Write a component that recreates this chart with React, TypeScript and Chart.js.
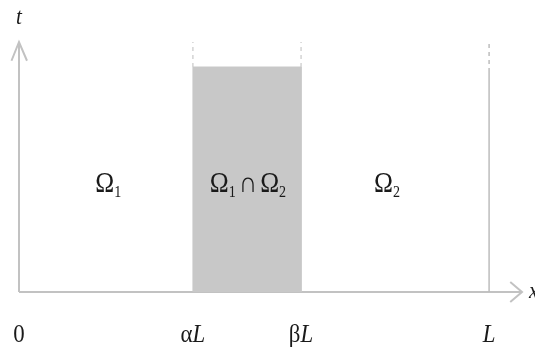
import React, { useEffect, useRef } from "react";
import { Chart, registerables } from "chart.js";

Chart.register(...registerables);

// Domain [0, L] split into two overlapping subdomains
const L = 1;
const alpha = 0.37;
const beta = 0.6;
const overlapHeight = 0.9;
const timeTop = 1.0;
const xAxisEnd = 1.07;
const lSolidTop = 0.88;

// Tick marks along x: upright prefix + italic suffix
const tickValues = [0, alpha * L, beta * L, L];
const tickPrefixes = ["0", "α", "β", ""];
const tickSuffixes = ["", "L", "L", "L"];

// Region labels: Ω with subscript indices
const regionX = [0.19, 0.487, 0.783];
const regionParts = [
  [["Ω", "1"]],
  [["Ω", "1"], ["∩", ""], ["Ω", "2"]],
  [["Ω", "2"]],
];
const regionY = 0.4;

const axisColor = "#c2c2c2";
const guideColor = "#bdbdbd";
const fillColor = "#c8c8c8";
const textColor = "#1a1a1a";
const serif = "'Liberation Serif', 'DejaVu Serif', serif";
const squeeze = 0.88;

const seg = (pts: number[][], color: string, width: number, dash: number[] = []) => ({
  type: "line" as const,
  data: pts.map(([x, y]) => ({ x, y })),
  borderColor: color,
  borderWidth: width,
  borderDash: dash,
  pointRadius: 0,
  fill: false,
  tension: 0,
  clip: false as any,
});

// Draws text narrowed horizontally, starting at (x, y)
const narrowText = (ctx: CanvasRenderingContext2D, s: string, x: number, y: number) => {
  ctx.save();
  ctx.translate(x, y);
  ctx.scale(squeeze, 1);
  ctx.fillText(s, 0, 0);
  ctx.restore();
};
const narrowWidth = (ctx: CanvasRenderingContext2D, s: string) => ctx.measureText(s).width * squeeze;

const textPlugin = {
  id: "diagramText",
  afterDraw(chart: any) {
    const { ctx, scales } = chart;
    const xs = scales.x;
    const ys = scales.y;
    ctx.save();
    ctx.fillStyle = textColor;
    ctx.textBaseline = "alphabetic";

    // tick labels
    const baseY = ys.getPixelForValue(0) + 50;
    tickValues.forEach((v, i) => {
      const pre = tickPrefixes[i];
      const suf = tickSuffixes[i];
      ctx.font = `26px ${serif}`;
      const wPre = narrowWidth(ctx, pre);
      ctx.font = `italic 26px ${serif}`;
      const wSuf = narrowWidth(ctx, suf);
      const cx = xs.getPixelForValue(v);
      const x0 = cx - (wPre + wSuf) / 2;
      ctx.font = `26px ${serif}`;
      narrowText(ctx, pre, x0, baseY);
      ctx.font = `italic 26px ${serif}`;
      narrowText(ctx, suf, x0 + wPre, baseY);
    });

    // region labels
    const ry = ys.getPixelForValue(regionY);
    regionParts.forEach((parts, i) => {
      const widths = parts.map(([main, sub]) => {
        ctx.font = `29px ${serif}`;
        const a = narrowWidth(ctx, main);
        ctx.font = `16px ${serif}`;
        const b = sub ? narrowWidth(ctx, sub) : 0;
        return a + b + (main === "∩" ? 6 : 0);
      });
      const total = widths.reduce((s, w) => s + w, 0);
      let x = xs.getPixelForValue(regionX[i]) - total / 2;
      parts.forEach(([main, sub], j) => {
        ctx.font = `29px ${serif}`;
        const off = main === "∩" ? 3 : 0;
        narrowText(ctx, main, x + off, ry);
        const a = narrowWidth(ctx, main);
        if (sub) {
          ctx.font = `16px ${serif}`;
          narrowText(ctx, sub, x + a, ry + 5);
        }
        x += widths[j];
      });
    });

    // axis names
    ctx.font = `italic 24px ${serif}`;
    narrowText(ctx, "t", xs.getPixelForValue(0) - 3, 24);
    narrowText(ctx, "x", xs.getPixelForValue(xAxisEnd) + 7, ys.getPixelForValue(0) + 6);
    ctx.restore();
  },
};

export default function App() {
  const ref = useRef<HTMLCanvasElement>(null);
  useEffect(() => {
    if (!ref.current) return;
    const chart = new Chart(ref.current, {
      type: "line",
      data: {
        datasets: [
          {
            ...seg(
              [[alpha, 0], [alpha, overlapHeight], [beta, overlapHeight], [beta, 0]],
              fillColor,
              1
            ),
            fill: "origin",
            backgroundColor: fillColor,
          },
          seg([[alpha, overlapHeight], [alpha, timeTop]], guideColor, 1, [4, 4]),
          seg([[beta, overlapHeight], [beta, timeTop]], guideColor, 1, [4, 4]),
          seg([[L, 0], [L, lSolidTop]], guideColor, 1.5),
          seg([[L, lSolidTop], [L, timeTop]], guideColor, 1.5, [4, 4]),
          seg([[0, 0], [xAxisEnd, 0]], axisColor, 2),
          seg([[0, 0], [0, timeTop]], axisColor, 2),
          seg([[xAxisEnd - 0.025, 0.04], [xAxisEnd, 0], [xAxisEnd - 0.025, -0.04]], axisColor, 2),
          seg([[-0.016, timeTop - 0.075], [0, timeTop], [0.017, timeTop - 0.075]], axisColor, 2),
        ] as any,
      },
      options: {
        responsive: false,
        animation: false,
        layout: { padding: { left: 19, right: 13, top: 42, bottom: 59 } },
        plugins: { legend: { display: false }, tooltip: { enabled: false } },
        scales: {
          x: { type: "linear", min: 0, max: xAxisEnd, display: false },
          y: { type: "linear", min: 0, max: timeTop, display: false },
        },
      },
      plugins: [textPlugin],
    });
    return () => chart.destroy();
  }, []);
  return (
    <div style={{ position: "absolute", left: 0, top: 0, width: 535, height: 351, background: "#fff" }}>
      <canvas ref={ref} width={535} height={351} />
    </div>
  );
}
